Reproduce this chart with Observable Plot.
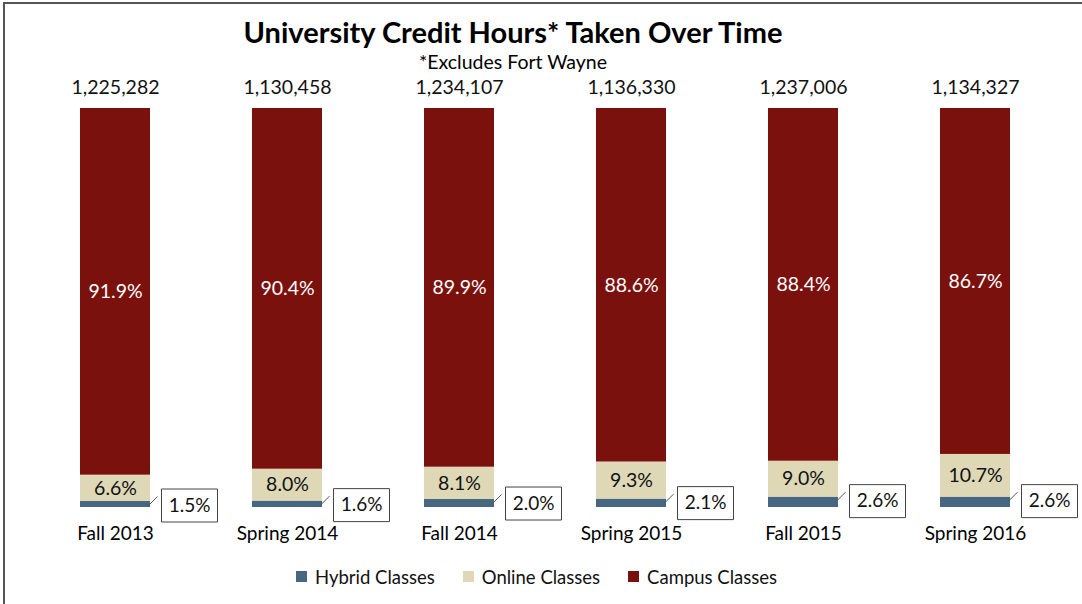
<!DOCTYPE html>
<html><head><meta charset="utf-8">
<script src="https://cdn.jsdelivr.net/npm/d3@7"></script>
<script src="https://cdn.jsdelivr.net/npm/@observablehq/plot@0.6"></script>
<style>
body{margin:0;background:#fff;font-family:Lato,"Open Sans",sans-serif;color:#000;width:1082px;height:604px;overflow:hidden;position:relative;}
#frame{position:absolute;left:3px;top:2px;width:1079px;height:602px;border-top:2px solid #555;border-left:2px solid #555;box-sizing:border-box;}
#title{position:absolute;left:0;width:1026px;top:13px;text-align:center;font-weight:bold;font-size:29px;line-height:38px;}
#subtitle{position:absolute;left:0;width:1026px;top:50px;text-align:center;font-size:19.5px;line-height:24px;}
#chart{position:absolute;left:0;top:70px;}
#legend{position:absolute;left:296px;top:560px;}
.lg-swatch{margin-right:28px !important;}
.lg-swatch > svg{margin-right:8px !important;}
</style>
</head><body>
<div id="frame"></div>
<div id="title">University Credit Hours* Taken Over Time</div>
<div id="subtitle">*Excludes Fort Wayne</div>
<div id="chart"></div>
<div id="legend"></div>
<script>
const categories = ["Fall 2013","Spring 2014","Fall 2014","Spring 2015","Fall 2015","Spring 2016"];
const totals = [1225282,1130458,1234107,1136330,1237006,1134327];
const hybrid = [1.5,1.6,2.0,2.1,2.6,2.6];
const online = [6.6,8.0,8.1,9.3,9.0,10.7];
const campus = [91.9,90.4,89.9,88.6,88.4,86.7];
const seriesNames = ["Hybrid Classes","Online Classes","Campus Classes"];
const seriesColors = ["#46677f","#ded8b7","#7b110d"];

const rows = [];
categories.forEach((c,i)=>{
  [hybrid,online,campus].forEach((arr,j)=>rows.push({term:c,type:seriesNames[j],pct:arr[i]}));
});
const hybridRows = categories.map((c,i)=>({term:c,pct:hybrid[i]}));
const totalRows = categories.map((c,i)=>({term:c,total:totals[i]}));
const pctFmt = v => v.toFixed(1) + "%";

const boxSymbol = {draw(ctx){ ctx.rect(-28,-16.5,56,33); }};
const leaderSymbol = {draw(ctx){ ctx.moveTo(0,4); ctx.lineTo(9,-5); }};

const plot = Plot.plot({
  width:1082, height:480,
  marginTop:38, marginBottom:43, marginLeft:26, marginRight:19,
  style:{fontFamily:"Lato, 'Open Sans', sans-serif", fontSize:"19px", color:"#000", background:"transparent"},
  x:{type:"band", domain:categories, paddingInner:0.594, paddingOuter:0.3, tickSize:0, tickPadding:19, label:null},
  y:{domain:[0,100], axis:null},
  color:{domain:seriesNames, range:seriesColors},
  marks:[
    Plot.barY(rows, Plot.stackY({x:"term", y:"pct", fill:"type"})),
    Plot.text(rows, Plot.stackY({x:"term", y:"pct", z:"type", text:d=>d.type==="Online Classes"?pctFmt(d.pct):null, fill:"#111", fontSize:19.5})),
    Plot.text(rows, Plot.stackY({x:"term", y:"pct", z:"type", text:d=>d.type==="Campus Classes"?pctFmt(d.pct):null, fill:"white", fontSize:19.5})),
    Plot.dot(hybridRows, {x:"term", y:"pct", dx:33, symbol:leaderSymbol, stroke:"#555", strokeWidth:1, fill:"none", r:5}),
    Plot.dot(hybridRows, {x:"term", y:"pct", dx:74, dy:4, symbol:boxSymbol, stroke:"#444", strokeWidth:1, fill:"white", r:5}),
    Plot.text(hybridRows, {x:"term", y:"pct", dx:74, dy:4, text:d=>pctFmt(d.pct), fill:"#111", fontSize:19}),
    Plot.text(totalRows, {x:"term", frameAnchor:"top", lineAnchor:"middle", dy:-21, text:d=>d3.format(",")(d.total), fill:"#111", fontSize:19.5})
  ]
});
document.getElementById("chart").appendChild(plot);

const legend = Plot.legend({
  color:{domain:seriesNames, range:seriesColors},
  className:"lg", swatchSize:11, marginLeft:0,
  style:{fontFamily:"Lato, 'Open Sans', sans-serif", fontSize:"18.5px", color:"#111"}
});
document.getElementById("legend").appendChild(legend);
</script>
</body></html>
